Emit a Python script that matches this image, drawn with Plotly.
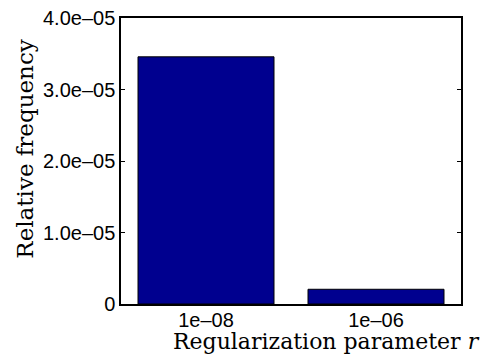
import plotly.graph_objects as go

# Relative frequency of each regularization parameter value
categories = ["1e–08", "1e–06"]
rel_freq = [3.457e-05, 2.06e-06]

y_tick_vals = [0, 1e-05, 2e-05, 3e-05, 4e-05]
y_tick_text = ["0", "1.0e–05", "2.0e–05", "3.0e–05", "4.0e–05"]

x_title = "Regularization parameter <i>r</i>"
y_title = "Relative frequency"

fig = go.Figure(
    go.Bar(
        x=categories,
        y=rel_freq,
        marker=dict(color="#00008F", line=dict(color="black", width=1)),
    )
)

tick_font = dict(family="Liberation Sans", size=20, color="black")
title_font = dict(family="DejaVu Serif", size=22, color="black")

fig.update_layout(
    width=496,
    height=356,
    margin=dict(l=121, r=35, t=18, b=52, autoexpand=False),
    paper_bgcolor="white",
    plot_bgcolor="white",
    bargap=0.2,
    showlegend=False,
    xaxis=dict(
        range=[-0.5, 1.5],
        automargin=False,
        showline=True,
        linecolor="black",
        linewidth=1.5,
        mirror=True,
        ticks="",
        tickfont=tick_font,
        ticklabelstandoff=-3,
        showgrid=False,
    ),
    yaxis=dict(
        range=[0, 4e-05],
        automargin=False,
        tickvals=y_tick_vals,
        ticktext=y_tick_text,
        showline=True,
        linecolor="black",
        linewidth=1.5,
        mirror="allticks",
        ticks="inside",
        ticklen=4,
        tickcolor="black",
        tickfont=tick_font,
        showgrid=False,
        zeroline=False,
    ),
    annotations=[
        dict(text=x_title, xref="paper", yref="paper", x=0.604, y=-0.13,
             xanchor="center", yanchor="middle", showarrow=False, font=title_font),
        dict(text=y_title, xref="paper", yref="paper", x=-0.285, y=0.54,
             xanchor="center", yanchor="middle", textangle=-90, showarrow=False,
             font=dict(family="DejaVu Serif", size=23, color="black")),
    ],
)

fig.write_html("out.html")
